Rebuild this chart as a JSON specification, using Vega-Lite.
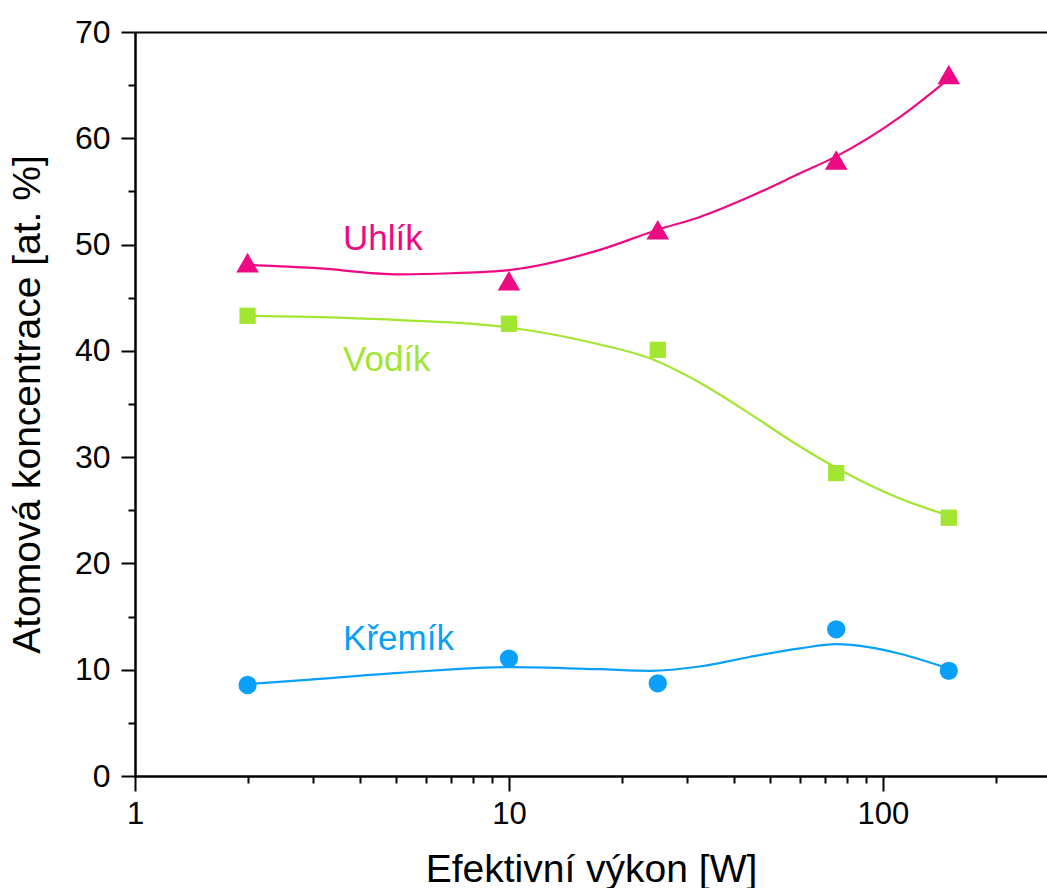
{
  "$schema": "https://vega.github.io/schema/vega-lite/v6.json",
  "width": 912,
  "height": 744,
  "autosize": {"type": "none"},
  "padding": {"left": 135, "top": 32, "right": 0, "bottom": 112},
  "background": "white",
  "config": {
    "view": {"stroke": null},
    "font": "Liberation Sans",
    "axis": {"grid": false, "domainColor": "black", "tickColor": "black", "domainWidth": 2, "tickWidth": 2, "labelColor": "black", "titleColor": "black", "labelFont": "Liberation Sans", "titleFont": "Liberation Sans", "titleFontWeight": "normal"}
  },
  "datasets": {
    "points": [
      {"prvek": "Uhlík", "vykon": 2, "konc": 48.3},
      {"prvek": "Uhlík", "vykon": 10, "konc": 46.6},
      {"prvek": "Uhlík", "vykon": 25, "konc": 51.4},
      {"prvek": "Uhlík", "vykon": 75, "konc": 57.95},
      {"prvek": "Uhlík", "vykon": 150, "konc": 66.0},
      {"prvek": "Vodík", "vykon": 2, "konc": 43.3},
      {"prvek": "Vodík", "vykon": 10, "konc": 42.55},
      {"prvek": "Vodík", "vykon": 25, "konc": 40.1},
      {"prvek": "Vodík", "vykon": 75, "konc": 28.5},
      {"prvek": "Vodík", "vykon": 150, "konc": 24.3},
      {"prvek": "Křemík", "vykon": 2, "konc": 8.56},
      {"prvek": "Křemík", "vykon": 10, "konc": 11.05},
      {"prvek": "Křemík", "vykon": 25, "konc": 8.72},
      {"prvek": "Křemík", "vykon": 75, "konc": 13.8},
      {"prvek": "Křemík", "vykon": 150, "konc": 9.9}
    ],
    "curves": [
      {"prvek": "Uhlík", "vykon": 2, "konc": 48.1},
      {"prvek": "Uhlík", "vykon": 3, "konc": 47.8},
      {"prvek": "Uhlík", "vykon": 5.1, "konc": 47.2},
      {"prvek": "Uhlík", "vykon": 7, "konc": 47.3},
      {"prvek": "Uhlík", "vykon": 10, "konc": 47.6},
      {"prvek": "Uhlík", "vykon": 17.5, "konc": 49.5},
      {"prvek": "Uhlík", "vykon": 25, "konc": 51.4},
      {"prvek": "Uhlík", "vykon": 32.4, "konc": 52.6},
      {"prvek": "Uhlík", "vykon": 44, "konc": 54.5},
      {"prvek": "Uhlík", "vykon": 60, "konc": 56.7},
      {"prvek": "Uhlík", "vykon": 75, "konc": 58.3},
      {"prvek": "Uhlík", "vykon": 111, "konc": 62.0},
      {"prvek": "Uhlík", "vykon": 150, "konc": 65.6},
      {"prvek": "Vodík", "vykon": 2, "konc": 43.3},
      {"prvek": "Vodík", "vykon": 5.1, "konc": 42.9},
      {"prvek": "Vodík", "vykon": 10, "konc": 42.2},
      {"prvek": "Vodík", "vykon": 17.5, "konc": 40.6},
      {"prvek": "Vodík", "vykon": 23.8, "konc": 39.3},
      {"prvek": "Vodík", "vykon": 32.4, "konc": 37.0},
      {"prvek": "Vodík", "vykon": 44, "konc": 34.1},
      {"prvek": "Vodík", "vykon": 60, "konc": 31.0},
      {"prvek": "Vodík", "vykon": 75, "konc": 29.0},
      {"prvek": "Vodík", "vykon": 111, "konc": 26.1},
      {"prvek": "Vodík", "vykon": 150, "konc": 24.5},
      {"prvek": "Křemík", "vykon": 2, "konc": 8.65},
      {"prvek": "Křemík", "vykon": 2.76, "konc": 9.0},
      {"prvek": "Křemík", "vykon": 5.1, "konc": 9.7},
      {"prvek": "Křemík", "vykon": 10, "konc": 10.25},
      {"prvek": "Křemík", "vykon": 17.5, "konc": 10.05},
      {"prvek": "Křemík", "vykon": 23.8, "konc": 9.9},
      {"prvek": "Křemík", "vykon": 32.4, "konc": 10.3},
      {"prvek": "Křemík", "vykon": 44, "konc": 11.2},
      {"prvek": "Křemík", "vykon": 60, "konc": 12.0},
      {"prvek": "Křemík", "vykon": 75, "konc": 12.4},
      {"prvek": "Křemík", "vykon": 92.3, "konc": 12.1},
      {"prvek": "Křemík", "vykon": 111, "konc": 11.5},
      {"prvek": "Křemík", "vykon": 150, "konc": 10.1}
    ],
    "labels": [
      {"prvek": "Uhlík", "vykon": 3.6, "konc": 49.5},
      {"prvek": "Vodík", "vykon": 3.6, "konc": 38.1},
      {"prvek": "Křemík", "vykon": 3.6, "konc": 11.85}
    ]
  },
  "layer": [
    {
      "data": {"name": "curves"},
      "mark": {"type": "line", "interpolate": "monotone", "strokeWidth": 2.2},
      "encoding": {
        "x": {"field": "vykon", "type": "quantitative", "scale": {"type": "log", "domain": [1, 274.6], "nice": false},
          "axis": {"orient": "bottom", "values": [1, 10, 100], "format": "d", "tickSize": 15, "labelFontSize": 31, "labelPadding": 8, "labelFlush": false, "labelOverlap": false, "title": "Efektivní výkon [W]", "titleFontSize": 39, "titlePadding": 21}},
        "y": {"field": "konc", "type": "quantitative", "scale": {"domain": [0, 70], "nice": false, "zero": true},
          "axis": {"orient": "left", "values": [0, 10, 20, 30, 40, 50, 60, 70], "tickSize": 14, "labelFontSize": 32, "labelPadding": 11, "labelFlush": false, "labelOverlap": false, "title": "Atomová koncentrace [at. %]", "titleFontSize": 39, "titlePadding": 27}},
        "color": {"field": "prvek", "type": "nominal", "scale": {"domain": ["Uhlík", "Vodík", "Křemík"], "range": ["#EE0A82", "#A2E632", "#0AA0FA"]}, "legend": null},
        "detail": {"field": "prvek"}
      }
    },
    {
      "data": {"name": "labels"},
      "mark": {"type": "text", "align": "left", "baseline": "alphabetic", "fontSize": 35, "font": "Liberation Sans"},
      "encoding": {
        "x": {"field": "vykon", "type": "quantitative",
          "axis": {"orient": "top", "labels": false, "ticks": false, "title": null}},
        "y": {"field": "konc", "type": "quantitative",
          "axis": {"orient": "left", "values": [5, 15, 25, 35, 45, 55, 65], "tickSize": 7, "labels": false, "title": null}},
        "text": {"field": "prvek"},
        "color": {"field": "prvek", "type": "nominal", "legend": null}
      }
    },
    {
      "data": {"name": "points"},
      "transform": [{"filter": "datum.prvek === 'Uhlík'"}],
      "mark": {"type": "point", "filled": true, "opacity": 1, "shape": "triangle-up", "size": 510},
      "encoding": {
        "x": {"field": "vykon", "type": "quantitative",
          "axis": {"orient": "bottom", "values": [2, 3, 4, 5, 6, 7, 8, 9, 20, 30, 40, 50, 60, 70, 80, 90, 200], "tickSize": 7, "labels": false, "title": null}},
        "y": {"field": "konc", "type": "quantitative", "axis": null},
        "color": {"field": "prvek", "type": "nominal", "legend": null}
      }
    },
    {
      "data": {"name": "points"},
      "transform": [{"filter": "datum.prvek === 'Vodík'"}],
      "mark": {"type": "point", "filled": true, "opacity": 1, "shape": "square", "size": 265},
      "encoding": {
        "x": {"field": "vykon", "type": "quantitative", "axis": null},
        "y": {"field": "konc", "type": "quantitative", "axis": null},
        "color": {"field": "prvek", "type": "nominal", "legend": null}
      }
    },
    {
      "data": {"name": "points"},
      "transform": [{"filter": "datum.prvek === 'Křemík'"}],
      "mark": {"type": "point", "filled": true, "opacity": 1, "shape": "circle", "size": 335},
      "encoding": {
        "x": {"field": "vykon", "type": "quantitative", "axis": null},
        "y": {"field": "konc", "type": "quantitative", "axis": null},
        "color": {"field": "prvek", "type": "nominal", "legend": null}
      }
    }
  ],
  "resolve": {"axis": {"x": "independent", "y": "independent"}}
}
